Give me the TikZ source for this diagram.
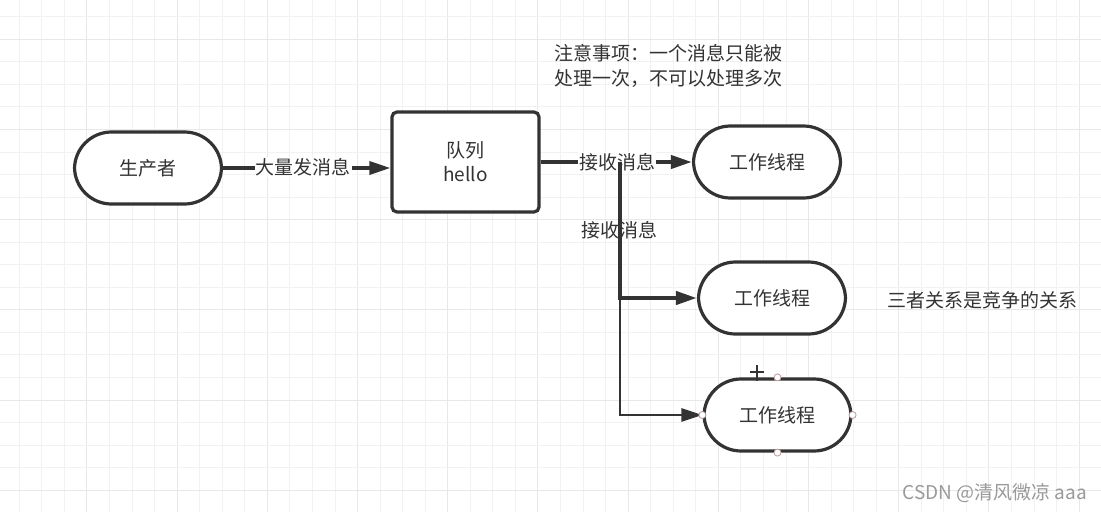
\documentclass[tikz,border=0pt]{standalone}
\usepackage{fontspec}
\setmainfont{Noto Sans CJK SC}
\usetikzlibrary{arrows.meta}
\definecolor{ink}{HTML}{333333}
\definecolor{gridminor}{HTML}{F2F2F2}
\definecolor{gridmajor}{HTML}{E8E8E8}
\definecolor{wmark}{HTML}{9A9A9A}
\definecolor{handle}{HTML}{B89A9A}

\begin{document}
\begin{tikzpicture}[x=1pt,y=-1pt,>={Triangle[length=21pt,width=13pt]}]
    \tikzstyle{every node}=[font=\fontsize{19}{25}\selectfont,text=ink];
    \tikzstyle{thread}=[draw=ink,line width=3.2pt,rounded corners=37pt,minimum width=147pt,minimum height=72pt,fill=white];
    \tikzstyle{box}=[draw=ink,line width=3.2pt,rounded corners=5pt,minimum width=147pt,minimum height=100pt,fill=white,align=center];
    \tikzstyle{link}=[draw=ink,->,line width=3.5pt];

    \useasboundingbox (0,0) rectangle (1101,512);
    \fill[white] (0,0) rectangle (1101,512);
    % grid
    \foreach \k in {0,...,47} {
        \pgfmathsetmacro\gx{19.3+22.55*\k}
        \pgfmathtruncatemacro\m{mod(\k,4)}
        \ifnum\m=3 \draw[gridmajor,line width=1pt] (\gx,0) -- (\gx,512);
        \else \draw[gridminor,line width=1pt] (\gx,0) -- (\gx,512); \fi
    }
    \foreach \k in {0,...,21} {
        \pgfmathsetmacro\gy{16.7+22.55*\k}
        \pgfmathtruncatemacro\m{mod(\k,4)}
        \ifnum\m=1 \draw[gridmajor,line width=1pt] (0,\gy) -- (1101,\gy);
        \else \draw[gridminor,line width=1pt] (0,\gy) -- (1101,\gy); \fi
    }

    \node[thread] at (148,168)   (producer) {生产者};
    \node[box]    at (465.5,162) (queue) {队列\\[-1pt]hello};
    \node[thread] at (767,162)   (worker1) {工作线程};
    \node[thread] at (772,298)   (worker2) {工作线程};
    \node[thread] at (777.5,415) (worker3) {工作线程};
    \coordinate (fork) at (620,162);

    \draw[link] (producer) -- (producer -| queue.west);
    \draw[link,line width=4pt] (queue.east) -- (worker1.west);

    \node[fill=white,inner sep=1pt] at (303,167) (sendlabel) {大量发消息};
    \node[fill=white,inner sep=1pt] at (617,162) (recvlabel) {接收消息};

    \draw[link,line width=2.6pt] (fork) |- (worker3.west);
    \draw[link,line width=4.2pt] (fork) |- (worker2.west);

    \node at (619,230) (recvlabel2) {接收消息};

    \node[anchor=west,align=left,inner sep=0pt] at (554,66) (note) {注意事项：一个消息只能被\\处理一次，不可以处理多次};
    \node[anchor=west,inner sep=0pt] at (887,300) (relation) {三者关系是竞争的关系};
    \node[anchor=east,inner sep=0pt,text=wmark] at (1087,493) (watermark) {CSDN @清风微凉 aaa};

    % selection handles on the last thread
    \foreach \a in {north,south,east,west}
        \draw[handle,fill=white,line width=0.8pt] (worker3.\a) circle (3.5);
    \draw[ink,line width=1.5pt] (750,372) -- (764,372) (757,365) -- (757,381);
\end{tikzpicture}
\end{document}
